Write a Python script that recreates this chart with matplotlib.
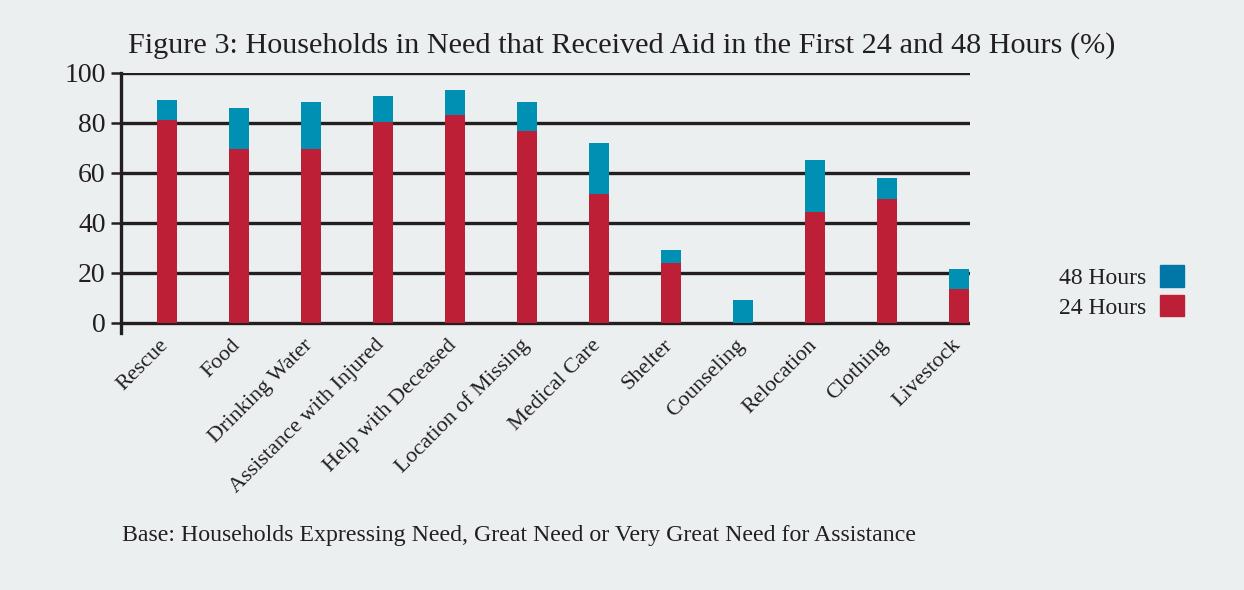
import matplotlib
matplotlib.use("Agg")
import matplotlib.pyplot as plt
import matplotlib.transforms as mtransforms
from matplotlib.patches import Patch

categories = ["Rescue", "Food", "Drinking Water", "Assistance with Injured",
              "Help with Deceased", "Location of Missing", "Medical Care",
              "Shelter", "Counseling", "Relocation", "Clothing", "Livestock"]
hours_24 = [81.2, 69.8, 69.8, 80.4, 83.2, 76.8, 51.6, 24.0, 0.0, 44.4, 49.6, 13.6]
hours_48 = [89.4, 86.0, 88.4, 90.8, 93.2, 88.4, 72.0, 29.2, 9.2, 65.2, 58.0, 21.6]
yticks = [0, 20, 40, 60, 80, 100]

bg = "#ebeff0"
ink = "#231f20"
blue = "#0090b4"
red = "#bc1f36"

plt.rcParams["font.family"] = ["Liberation Serif", "DejaVu Serif"]
plt.rcParams["text.color"] = ink

fig = plt.figure(figsize=(12.44, 5.9), dpi=100, facecolor=bg)
ax = fig.add_axes([121/1244, 1-333/590, (970-121)/1244, (333-73)/590])
ax.set_facecolor(bg)

x = list(range(len(categories)))
ax.bar(x, hours_48, width=0.28, color=blue, zorder=3)
ax.bar(x, hours_24, width=0.28, color=red, zorder=4)

ax.set_xlim(-0.64, 11.15)
ax.set_ylim(-4, 100)
ax.set_yticks(yticks)
ax.set_yticklabels([str(t) for t in yticks], fontsize=20, color=ink)
ax.yaxis.grid(True, color=ink, linewidth=2.4, zorder=1)
ax.tick_params(axis="y", length=7, width=1.8, color=ink, pad=4)
ax.set_xticks(x)
ax.set_xticklabels(categories, rotation=45, ha="right", rotation_mode="anchor",
                   fontsize=16, color=ink)
ax.tick_params(axis="x", length=0, pad=2)
shift = mtransforms.ScaledTranslation(-8/100, 0, fig.dpi_scale_trans)
for lab in ax.get_xticklabels():
    lab.set_transform(lab.get_transform() + shift)

for s in ["top", "right", "bottom"]:
    ax.spines[s].set_visible(False)
ax.spines["left"].set_color(ink)
ax.spines["left"].set_linewidth(2.4)

handles = [Patch(color="#0077a7", label="48 Hours"), Patch(color=red, label="24 Hours")]
fig.legend(handles=handles, loc="center right", bbox_to_anchor=(1184/1244, 1-292/590),
           frameon=False, markerfirst=False, fontsize=17, handlelength=1.0,
           handleheight=1.0, borderpad=0, borderaxespad=0, labelspacing=0.25,
           handletextpad=0.6)

fig.text(0.5, 1-46/590, "Figure 3: Households in Need that Received Aid in the First 24 and 48 Hours (%)",
         ha="center", va="center", fontsize=21.8)
fig.text(122/1244, 1-536/590, "Base: Households Expressing Need, Great Need or Very Great Need for Assistance",
         ha="left", va="center", fontsize=17.2)

fig.savefig("out.png", dpi=100, facecolor=bg)
